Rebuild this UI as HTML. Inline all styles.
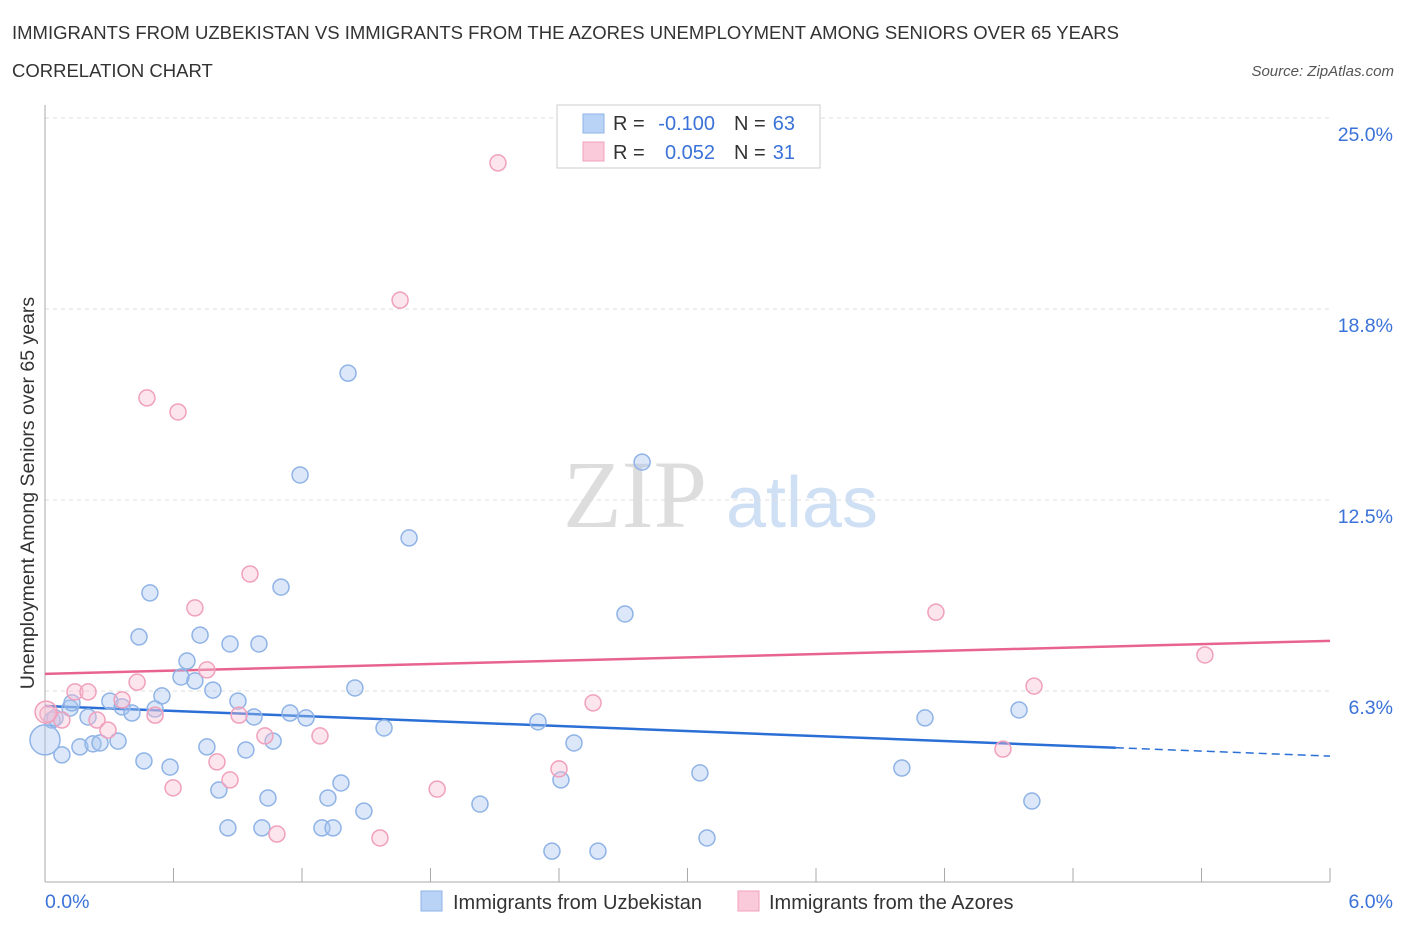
<!DOCTYPE html>
<html><head><meta charset="utf-8"><style>
body{margin:0;background:#fff;font-family:"Liberation Sans",sans-serif;}
svg{display:block}
</style></head><body>
<svg id="chart" width="1406" height="930" xmlns="http://www.w3.org/2000/svg">
<text x="12" y="39" font-size="18.5" fill="#333" textLength="1107">IMMIGRANTS FROM UZBEKISTAN VS IMMIGRANTS FROM THE AZORES UNEMPLOYMENT AMONG SENIORS OVER 65 YEARS</text>
<text x="12" y="77" font-size="18.5" fill="#333">CORRELATION CHART</text>
<text x="1394" y="76" font-size="15" fill="#555" font-style="italic" text-anchor="end">Source: ZipAtlas.com</text>
<g>
<text x="635" y="527" font-size="96" font-family="Liberation Serif,serif" fill="#ddd" text-anchor="middle">ZIP</text>
<text x="802" y="527" font-size="72" fill="#cfe0f5" text-anchor="middle">atlas</text>
</g>
<g id="grid"></g>
<g id="axes"></g>
<g id="lines"></g>
<g id="points"></g>
<text x="34" y="493" font-size="19.5" fill="#333" text-anchor="middle" transform="rotate(-90 34 493)">Unemployment Among Seniors over 65 years</text>
<g>
<rect x="557" y="105" width="263" height="63" fill="#fff" stroke="#ccc"/>
<rect x="583" y="114" width="21" height="19" fill="#b8d3f5" stroke="#8fb3e6"/>
<rect x="583" y="142" width="21" height="19" fill="#fbcada" stroke="#f0a0bc"/>
<text x="613" y="130" font-size="20" fill="#333">R =</text>
<text x="715" y="130" font-size="20" fill="#3a72d8" text-anchor="end">-0.100</text>
<text x="734" y="130" font-size="20" fill="#333">N =</text>
<text x="795" y="130" font-size="20" fill="#3a72d8" text-anchor="end">63</text>
<text x="613" y="159" font-size="20" fill="#333">R =</text>
<text x="715" y="159" font-size="20" fill="#3a72d8" text-anchor="end">0.052</text>
<text x="734" y="159" font-size="20" fill="#333">N =</text>
<text x="795" y="159" font-size="20" fill="#3a72d8" text-anchor="end">31</text>
</g>
<g>
<rect x="421" y="891" width="21" height="20" fill="#b8d3f5" stroke="#8fb3e6"/>
<text x="453" y="909" font-size="20" fill="#333">Immigrants from Uzbekistan</text>
<rect x="738" y="891" width="21" height="20" fill="#fbcada" stroke="#f0a0bc"/>
<text x="769" y="909" font-size="20" fill="#333">Immigrants from the Azores</text>
</g>
</svg>
<script>
const yTicks=[6.25,12.5,18.75,25];
const yTickLabels=["6.3%","12.5%","18.8%","25.0%"];
const xTickLabels=["0.0%","6.0%"];
const blueX=[.033,.079,.117,.126,.163,.201,.224,.257,.303,.341,.360,.406,.439,.462,.490,.514,.546,.584,.635,.663,.700,.724,.756,.784,.812,.854,.864,.901,.938,.976,.999,1.013,1.041,1.065,1.102,1.144,1.191,1.219,1.293,1.321,1.345,1.382,1.415,1.447,1.489,1.583,1.700,2.031,2.302,2.367,2.409,2.470,2.582,2.708,2.788,3.058,3.091,4.001,4.109,4.548,4.608,0,.047];
const blueY=[5.30,4.16,5.69,5.86,4.42,5.40,4.52,4.55,5.92,4.61,5.73,5.53,8.02,3.96,9.46,5.66,6.09,3.76,6.71,7.23,6.58,8.08,4.42,6.28,3.01,1.77,7.79,5.92,4.32,5.40,7.79,1.77,2.75,4.61,9.65,5.53,13.32,5.37,1.77,2.75,1.77,3.24,16.65,6.35,2.32,5.04,11.26,2.55,5.24,1.01,3.34,4.55,1.01,8.77,13.74,3.57,1.44,3.73,5.37,5.63,2.65,4.65,5.37];
const pinkX=[.014,.079,.140,.201,.243,.294,.360,.430,.476,.514,.598,.621,.700,.756,.803,.864,.906,.957,1.027,1.083,1.284,1.564,1.658,1.831,2.115,2.400,2.559,4.160,4.473,4.618,5.416,.005];
const pinkY=[5.50,5.30,6.22,6.22,5.30,4.97,5.96,6.54,15.84,5.46,3.08,15.38,8.97,6.94,3.93,3.34,5.46,10.08,4.78,1.57,4.78,1.44,19.04,3.04,23.53,3.70,5.86,8.83,4.35,6.41,7.43,5.56];
const blueTrend=[5.76,4.12];
const pinkTrend=[6.81,7.89];
const blueSolidEnd=5.0;
const X=v=>45+v/6*1285, Y=v=>882-v/6.25*191;
const NS="http://www.w3.org/2000/svg";
function mk(t,a,p){const e=document.createElementNS(NS,t);for(const k in a)e.setAttribute(k,a[k]);p.appendChild(e);return e;}
const grid=document.getElementById('grid'),axes=document.getElementById('axes'),lines=document.getElementById('lines'),pts=document.getElementById('points');
yTicks.forEach((t,i)=>{
 const g=mk('line',{x1:45,x2:1330,y1:Y(t),y2:Y(t),stroke:'#ddd','stroke-dasharray':'4 4'},grid);
 
 
 const l=mk('text',{x:1393,y:Y(t)+23,'font-size':19.5,fill:'#3a72d8','text-anchor':'end'},axes);
 l.textContent=yTickLabels[i];
 
 
});
const ax=mk('line',{x1:45,x2:1330,y1:882,y2:882,stroke:'#aaa'},axes);


const ay=mk('line',{x1:45,x2:45,y1:105,y2:882,stroke:'#aaa'},axes);


for(let i=0;i<=10;i++){const t=mk('line',{x1:X(i*0.6),x2:X(i*0.6),y1:882,y2:i==0?882:868,stroke:'#aaa'},axes);
 
 }
[[0,'start',45],[6,'end',1393]].forEach((d,i)=>{const t=mk('text',{x:d[2],y:908,'font-size':19.5,fill:'#3a72d8','text-anchor':d[1]},axes);t.textContent=xTickLabels[i];
 
 });
const bSlope=(blueTrend[1]-blueTrend[0])/6;
const bl=mk('line',{x1:X(0),y1:Y(blueTrend[0]),x2:X(blueSolidEnd),y2:Y(blueTrend[0]+bSlope*blueSolidEnd),stroke:'#2b6fd6','stroke-width':2.5},lines);


const bd=mk('line',{x1:X(blueSolidEnd),y1:Y(blueTrend[0]+bSlope*blueSolidEnd),x2:X(6),y2:Y(blueTrend[1]),stroke:'#2b6fd6','stroke-width':1.5,'stroke-dasharray':'8 5'},lines);


const pl=mk('line',{x1:X(0),y1:Y(pinkTrend[0]),x2:X(6),y2:Y(pinkTrend[1]),stroke:'#e8648f','stroke-width':2.5},lines);


blueX.forEach((x,i)=>{const c=mk('circle',{cx:X(x),cy:Y(blueY[i]),r:(i==61?15:8),fill:'rgba(168,198,240,0.4)',stroke:'#8fb3e6','stroke-width':1.5},pts);
 
 });
pinkX.forEach((x,i)=>{const c=mk('circle',{cx:X(x),cy:Y(pinkY[i]),r:(i==31?11:8),fill:'rgba(248,190,210,0.4)',stroke:'#f0a0bc','stroke-width':1.5},pts);
 
 });
</script>
</body></html>
